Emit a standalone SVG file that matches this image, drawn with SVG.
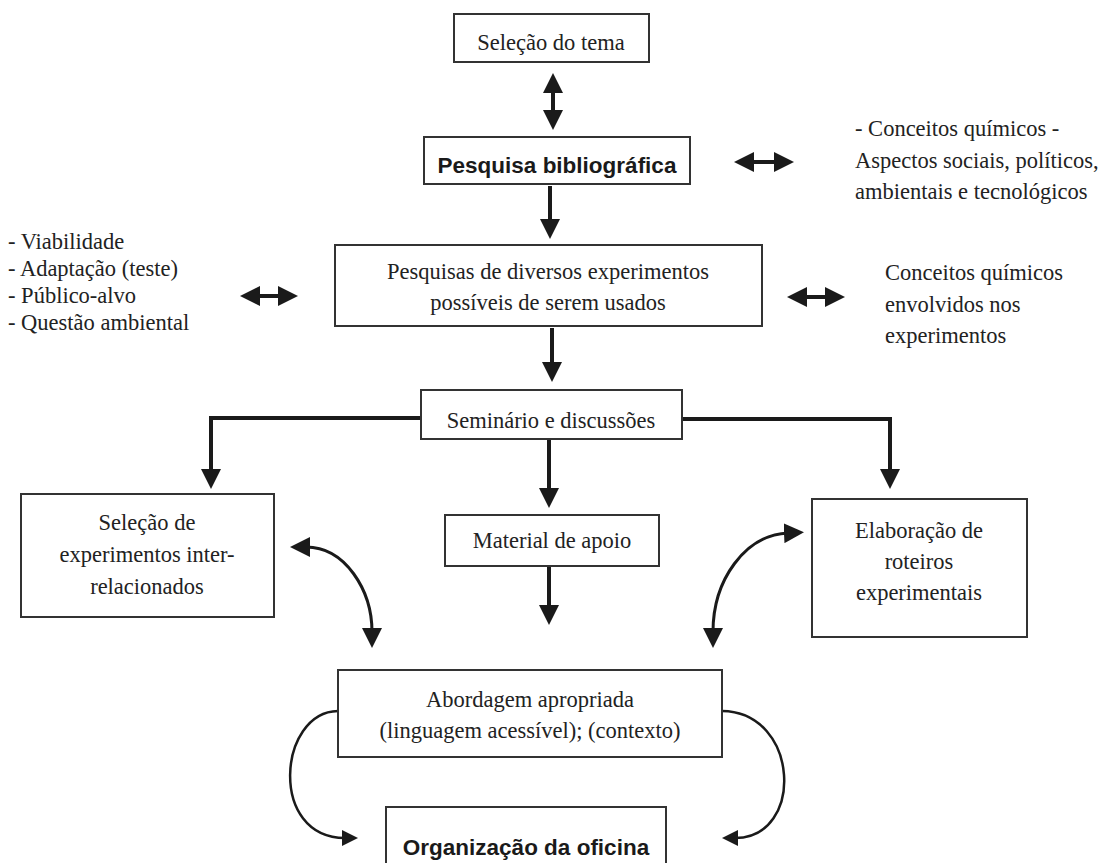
<svg xmlns="http://www.w3.org/2000/svg" width="1104" height="863" viewBox="0 0 1104 863">
<style>
.box{fill:#fff;stroke:#333;stroke-width:2}
.t{font-family:"Liberation Serif","Times New Roman",serif;font-size:22.5px;fill:#222}
.c{text-anchor:middle}
.b{font-family:"Liberation Sans",Arial,sans-serif;font-weight:bold;font-size:22.5px;fill:#1a1a1a;text-anchor:middle}
.ln{fill:none;stroke:#1a1a1a;stroke-width:4}
.cv{fill:none;stroke:#1a1a1a;stroke-width:3}
.cvt{fill:none;stroke:#1a1a1a;stroke-width:2.5}
</style>
<defs>
<marker id="ah" viewBox="0 0 20 20" refX="4" refY="10" markerWidth="20" markerHeight="20" markerUnits="userSpaceOnUse" orient="auto-start-reverse"><path d="M0,0 L20,10 L0,20 z" fill="#1a1a1a"/></marker>
<marker id="as" viewBox="0 0 16 16" refX="3" refY="8" markerWidth="16" markerHeight="16" markerUnits="userSpaceOnUse" orient="auto-start-reverse"><path d="M0,0 L16,8 L0,16 z" fill="#1a1a1a"/></marker>
</defs>
<rect width="1104" height="863" fill="#fff"/>
<g id="connectors">
<path class="ln" d="M553,89 V114" marker-start="url(#ah)" marker-end="url(#ah)"/>
<path class="ln" d="M750,162 H778" marker-start="url(#ah)" marker-end="url(#ah)"/>
<path class="ln" d="M550,186 V223" marker-end="url(#ah)"/>
<path class="ln" d="M256,296 H282" marker-start="url(#ah)" marker-end="url(#ah)"/>
<path class="ln" d="M803,297 H829" marker-start="url(#ah)" marker-end="url(#ah)"/>
<path class="ln" d="M552,328 V366" marker-end="url(#ah)"/>
<path class="ln" d="M421,418 H211 V473" marker-end="url(#ah)"/>
<path class="ln" d="M682,419 H890 V473" marker-end="url(#ah)"/>
<path class="ln" d="M549,440 V492" marker-end="url(#ah)"/>
<path class="ln" d="M549,567 V609" marker-end="url(#ah)"/>
<path class="cv" d="M306,547 C345,547 372,590 372,632" marker-start="url(#ah)" marker-end="url(#ah)"/>
<path class="cv" d="M788,533 C745,535 713,580 713,632" marker-start="url(#ah)" marker-end="url(#ah)"/>
<path class="cvt" d="M338,711 C278,712 268,838 345,838" marker-end="url(#as)"/>
<path class="cvt" d="M722,711 C800,712 805,838 735,838" marker-end="url(#as)"/>
</g>
<g id="n1"><rect class="box" x="454" y="14" width="195" height="48"/><text class="t c" x="551" y="50">Seleção do tema</text></g>
<g id="n2"><rect class="box" x="424" y="137" width="266" height="47"/><text class="b" x="557" y="173">Pesquisa bibliográfica</text></g>
<g id="n3"><text class="t" x="855" y="136">- Conceitos químicos -</text><text class="t" x="855" y="168">Aspectos sociais, políticos,</text><text class="t" x="855" y="199">ambientais e tecnológicos</text></g>
<g id="n4"><rect class="box" x="335" y="245" width="427" height="81"/><text class="t c" x="548" y="279">Pesquisas de diversos experimentos</text><text class="t c" x="548" y="310">possíveis de serem usados</text></g>
<g id="n5"><text class="t" x="8" y="249">- Viabilidade</text><text class="t" x="8" y="276">- Adaptação (teste)</text><text class="t" x="8" y="303">- Público-alvo</text><text class="t" x="8" y="330">- Questão ambiental</text></g>
<g id="n6"><text class="t" x="885" y="280">Conceitos químicos</text><text class="t" x="885" y="312">envolvidos nos</text><text class="t" x="885" y="343">experimentos</text></g>
<g id="n7"><rect class="box" x="421" y="390" width="261" height="49"/><text class="t c" x="551" y="428">Seminário e discussões</text></g>
<g id="n8"><rect class="box" x="21" y="494" width="253" height="123"/><text class="t c" x="147" y="530">Seleção de</text><text class="t c" x="147" y="562">experimentos inter-</text><text class="t c" x="147" y="594">relacionados</text></g>
<g id="n9"><rect class="box" x="445" y="515" width="214" height="51"/><text class="t c" x="552" y="548">Material de apoio</text></g>
<g id="n10"><rect class="box" x="812" y="499" width="215" height="138"/><text class="t c" x="919" y="538">Elaboração de</text><text class="t c" x="919" y="569">roteiros</text><text class="t c" x="919" y="600">experimentais</text></g>
<g id="n11"><rect class="box" x="338" y="670" width="384" height="87"/><text class="t c" x="530" y="707">Abordagem apropriada</text><text class="t c" x="530" y="738">(linguagem acessível); (contexto)</text></g>
<g id="n12"><rect class="box" x="386" y="807" width="280" height="64"/><text class="b" x="526" y="855">Organização da oficina</text></g>
</svg>
